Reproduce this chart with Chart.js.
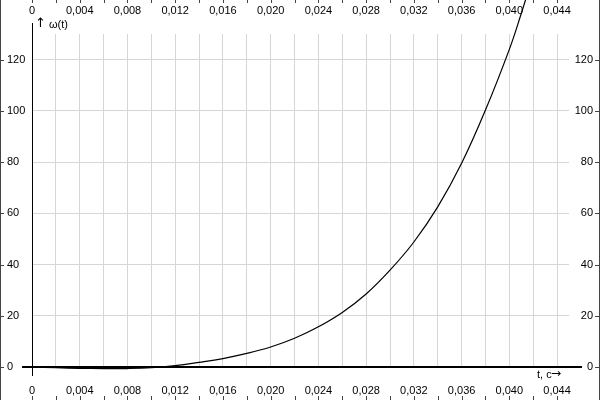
<!DOCTYPE html>
<html>
<head>
<meta charset="utf-8">
<script src="https://cdn.jsdelivr.net/npm/chart.js@4.4.1/dist/chart.umd.min.js"></script>
<style>
html, body { margin: 0; padding: 0; background: #fff; }
</style>
</head>
<body>
<canvas id="myChart" width="600" height="400"></canvas>
<script>
// t, c
var tValues = [0, 0.002, 0.004, 0.006, 0.008, 0.010, 0.012, 0.014, 0.016, 0.018, 0.020,
    0.022, 0.024, 0.026, 0.028, 0.030, 0.032, 0.034, 0.036, 0.038, 0.040, 0.041, 0.0416];
// ω(t)
var omegaValues = [0, -0.3, -0.5, -0.6, -0.6, -0.3, 0.5, 1.8, 3.3, 5.3, 7.8,
    11.2, 15.7, 21.3, 28.5, 37.8, 48.8, 62.5, 79.5, 100.3, 124, 138, 147];
var xTickStep = 0.002;
var yTickStep = 20;
var xMax = 0.045;
var yMax = 130;

Chart.defaults.font.family = '"Liberation Sans", Arial, sans-serif';
Chart.defaults.font.size = 11;
Chart.defaults.color = '#000';

function tLabel(value) {
    var n = Math.round(value / xTickStep);
    if (n % 2 !== 0) return '';
    if (n === 0) return '0';
    return (n * xTickStep).toFixed(3).replace('.', ',');
}

var gridColor = '#d6d6d6';

var decor = {
    id: 'decor',
    beforeDraw: function(chart) {
        var c = chart.ctx;
        c.save();
        c.fillStyle = '#fff';
        c.fillRect(0, 0, chart.width, chart.height);
        c.restore();
    },
    beforeDatasetsDraw: function(chart) {
        var c = chart.ctx, a = chart.chartArea;
        var x0 = chart.scales.x.getPixelForValue(0);
        var y0 = chart.scales.y.getPixelForValue(0);
        c.save();
        c.strokeStyle = '#000';
        c.lineWidth = 2;
        c.beginPath();
        c.moveTo(a.left - 10, y0);
        c.lineTo(a.right + 13, y0);
        c.stroke();
        c.lineWidth = 1;
        c.beginPath();
        c.moveTo(Math.round(x0) + 0.5, a.top - 11);
        c.lineTo(Math.round(x0) + 0.5, y0 + 9);
        c.stroke();
        c.restore();
    },
    afterDraw: function(chart) {
        var c = chart.ctx, a = chart.chartArea;
        var xs = chart.scales.x, ys = chart.scales.y;
        var x0 = xs.getPixelForValue(0);
        var y0 = ys.getPixelForValue(0);
        c.save();
        // frame edges and outer tick marks
        c.strokeStyle = '#444';
        c.lineWidth = 1;
        c.beginPath();
        c.moveTo(0.5, 0); c.lineTo(0.5, chart.height);
        c.moveTo(chart.width - 0.5, 0); c.lineTo(chart.width - 0.5, chart.height);
        xs.ticks.forEach(function(t) {
            var px = Math.round(xs.getPixelForValue(t.value)) + 0.5;
            c.moveTo(px, chart.height - 4); c.lineTo(px, chart.height);
            c.moveTo(px, 0); c.lineTo(px, 3);
        });
        ys.ticks.forEach(function(t) {
            var py = Math.round(ys.getPixelForValue(t.value)) + 0.5;
            c.moveTo(0, py); c.lineTo(4, py);
            c.moveTo(chart.width - 5, py); c.lineTo(chart.width, py);
        });
        c.stroke();
        // axis titles
        c.fillStyle = '#000';
        c.textBaseline = 'middle';
        c.textAlign = 'left';
        c.font = '13px "DejaVu Sans", sans-serif';
        c.fillText('\u2191', x0 + 3, a.top - 10);
        c.font = '11px "Liberation Sans", Arial, sans-serif';
        c.fillText('\u03c9(t)', x0 + 17, a.top - 9);
        c.fillText('t, c', a.right - 32, y0 + 8);
        c.font = '12px "DejaVu Sans", sans-serif';
        c.fillText('\u2192', a.right - 18, y0 + 7);
        c.restore();
    }
};

var ctx = document.getElementById('myChart').getContext('2d');
var myChart = new Chart(ctx, {
    type: 'line',
    data: {
        datasets: [{
            label: 'ω(t)',
            data: tValues.map(function(t, i) { return { x: t, y: omegaValues[i] }; }),
            borderColor: '#000',
            borderWidth: 1.2,
            pointRadius: 0,
            fill: false,
            tension: 0.4,
            clip: false
        }]
    },
    options: {
        responsive: false,
        animation: false,
        devicePixelRatio: 1,
        layout: { padding: { left: 7, right: 7, top: 0, bottom: 0 } },
        plugins: {
            legend: { display: false },
            tooltip: { enabled: false }
        },
        scales: {
            x: {
                type: 'linear',
                position: 'bottom',
                min: 0,
                max: xMax,
                afterFit: function(s) { s.height = 33; },
                ticks: {
                    stepSize: xTickStep,
                    includeBounds: false,
                    autoSkip: false,
                    maxRotation: 0,
                    padding: 17,
                    callback: tLabel
                },
                grid: { color: gridColor, drawTicks: false },
                border: { display: false }
            },
            x2: {
                type: 'linear',
                position: 'top',
                min: 0,
                max: xMax,
                afterFit: function(s) { s.height = 34; },
                ticks: {
                    stepSize: xTickStep,
                    includeBounds: false,
                    autoSkip: false,
                    maxRotation: 0,
                    padding: 16,
                    callback: tLabel
                },
                grid: { drawOnChartArea: false, drawTicks: false },
                border: { display: false }
            },
            y: {
                type: 'linear',
                position: 'left',
                min: 0,
                max: yMax,
                afterFit: function(s) { s.width = 25; },
                ticks: {
                    stepSize: yTickStep,
                    includeBounds: false,
                    crossAlign: 'far'
                },
                grid: { color: gridColor, drawTicks: false },
                border: { display: false }
            },
            y2: {
                type: 'linear',
                position: 'right',
                min: 0,
                max: yMax,
                afterFit: function(s) { s.width = 24; },
                ticks: {
                    stepSize: yTickStep,
                    includeBounds: false,
                    crossAlign: 'far'
                },
                grid: { drawOnChartArea: false, drawTicks: false },
                border: { display: false }
            }
        }
    },
    plugins: [decor]
});
</script>
</body>
</html>
